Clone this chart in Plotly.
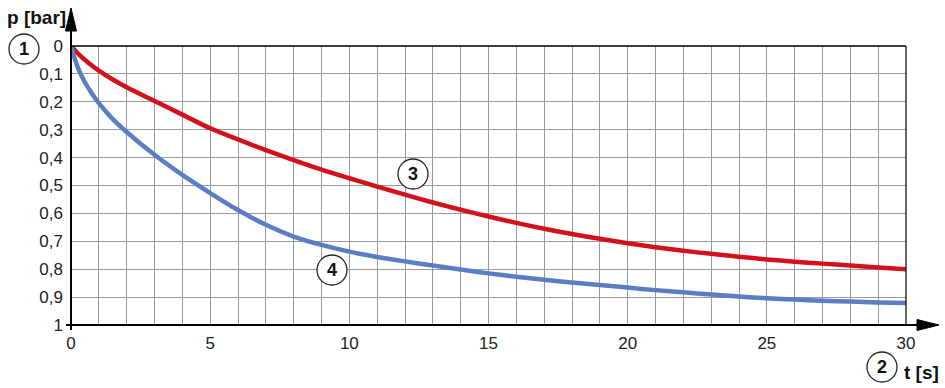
import plotly.graph_objects as go

# ---- data ----
t_red = [0, 0.3, 0.6, 1, 1.5, 2, 3, 4, 5, 6, 7, 8, 9, 10, 11, 12, 13, 14, 15, 16, 17, 18, 19, 20,
         21, 22, 23, 24, 25, 26, 27, 28, 29, 30]
p_red = [0, 0.032, 0.058, 0.088, 0.120, 0.148, 0.197, 0.246, 0.295, 0.335, 0.373, 0.409, 0.443, 0.474,
         0.504, 0.533, 0.561, 0.587, 0.611, 0.634, 0.655, 0.674, 0.691, 0.707, 0.721, 0.734, 0.745,
         0.755, 0.765, 0.773, 0.780, 0.787, 0.794, 0.800]
t_blue = [0, 0.15, 0.3, 0.5, 0.75, 1, 1.5, 2, 3, 4, 5, 6, 7, 8, 9, 10, 11, 12, 13, 14, 15, 16, 17,
          18, 19, 20, 21, 22, 23, 24, 25, 26, 27, 28, 29, 30]
p_blue = [0, 0.050, 0.090, 0.130, 0.170, 0.205, 0.262, 0.308, 0.39, 0.462, 0.527, 0.588, 0.641, 0.683,
          0.713, 0.737, 0.756, 0.772, 0.787, 0.801, 0.815, 0.827, 0.838, 0.848, 0.857, 0.866, 0.875,
          0.883, 0.891, 0.898, 0.904, 0.909, 0.913, 0.916, 0.919, 0.921]
x_tick_vals = [0, 5, 10, 15, 20, 25, 30]
x_tick_text = ["0", "5", "10", "15", "20", "25", "30"]
y_tick_vals = [0, 0.1, 0.2, 0.3, 0.4, 0.5, 0.6, 0.7, 0.8, 0.9, 1]
y_tick_text = ["0", "0,1", "0,2", "0,3", "0,4", "0,5", "0,6", "0,7", "0,8", "0,9", "1"]
y_title = "p [bar]"
x_title = "t [s]"

# ---- layout helpers (pixel -> paper) ----
L, R, T, B = 71, 906, 46, 325
W, H = 945, 388
def px(x):
    return (x - L) / (R - L)
def py(y):
    return (B - y) / (B - T)

FONT = "Liberation Sans, Arial, Helvetica, sans-serif"
RED = "#d2111c"
BLUE = "#5a7ec1"
GRID = "#9a9a9a"

fig = go.Figure()
fig.add_trace(go.Scatter(x=t_red, y=p_red, mode="lines",
                         line=dict(color=RED, width=4.5, shape="spline", smoothing=0.8),
                         hoverinfo="skip", showlegend=False))
fig.add_trace(go.Scatter(x=t_blue, y=p_blue, mode="lines",
                         line=dict(color=BLUE, width=4.5, shape="spline", smoothing=0.8),
                         hoverinfo="skip", showlegend=False))

shapes = []
# top and right frame
shapes.append(dict(type="line", xref="paper", yref="paper", x0=0, x1=1, y0=1, y1=1,
                   line=dict(color="black", width=1.5)))
shapes.append(dict(type="line", xref="paper", yref="paper", x0=1, x1=1, y0=0, y1=1,
                   line=dict(color="black", width=1.2)))
# left axis with arrow
shapes.append(dict(type="line", xref="paper", yref="paper", x0=0, x1=0, y0=py(330), y1=py(25),
                   line=dict(color="black", width=2)))
shapes.append(dict(type="path", xref="paper", yref="paper",
                   path=f"M {px(71)},{py(8)} L {px(65.5)},{py(31)} L {px(76.5)},{py(31)} Z",
                   fillcolor="black", line=dict(color="black", width=1)))
# bottom axis with arrow
shapes.append(dict(type="line", xref="paper", yref="paper", x0=px(66), x1=px(922), y0=0, y1=0,
                   line=dict(color="black", width=2)))
shapes.append(dict(type="path", xref="paper", yref="paper",
                   path=f"M {px(939)},{py(325)} L {px(917)},{py(319.5)} L {px(917)},{py(330.5)} Z",
                   fillcolor="black", line=dict(color="black", width=1)))

# numbered circles
circles = [("1", 24, 49), ("2", 882, 367), ("3", 413, 174), ("4", 332, 270)]
r = 15
annotations = []
for lab, cx, cy in circles:
    shapes.append(dict(type="circle", xref="paper", yref="paper",
                       x0=px(cx - r), x1=px(cx + r), y0=py(cy + r), y1=py(cy - r),
                       line=dict(color="#222222", width=1.3), fillcolor="white"))
    annotations.append(dict(xref="paper", yref="paper", x=px(cx), y=py(cy), text=f"<b>{lab}</b>",
                            showarrow=False, xanchor="center", yanchor="middle",
                            font=dict(family=FONT, size=18, color="#111111")))

annotations.append(dict(xref="paper", yref="paper", x=px(5), y=py(17), text=f"<b>{y_title}</b>",
                        showarrow=False, xanchor="left", yanchor="middle",
                        font=dict(family=FONT, size=19, color="#111111")))
annotations.append(dict(xref="paper", yref="paper", x=px(902), y=py(372), text=f"<b>{x_title}</b>",
                        showarrow=False, xanchor="left", yanchor="middle",
                        font=dict(family=FONT, size=19, color="#111111")))

fig.update_layout(
    width=W, height=H,
    margin=dict(l=L, r=W - R, t=T, b=H - B),
    paper_bgcolor="white", plot_bgcolor="white",
    font=dict(family=FONT, size=17, color="#222222"),
    shapes=shapes, annotations=annotations, showlegend=False,
    xaxis=dict(range=[0, 30], tickvals=x_tick_vals, ticktext=x_tick_text,
               showgrid=True, gridcolor=GRID, gridwidth=1, zeroline=False, showline=False,
               ticks="", ticklabelstandoff=6,
               minor=dict(dtick=1, showgrid=True, gridcolor=GRID, gridwidth=1),
               fixedrange=True),
    yaxis=dict(range=[1, 0], tickvals=y_tick_vals, ticktext=y_tick_text,
               showgrid=True, gridcolor=GRID, gridwidth=1, zeroline=False, showline=False,
               ticks="", ticklabelstandoff=7, fixedrange=True),
)

fig.write_html("out.html")
